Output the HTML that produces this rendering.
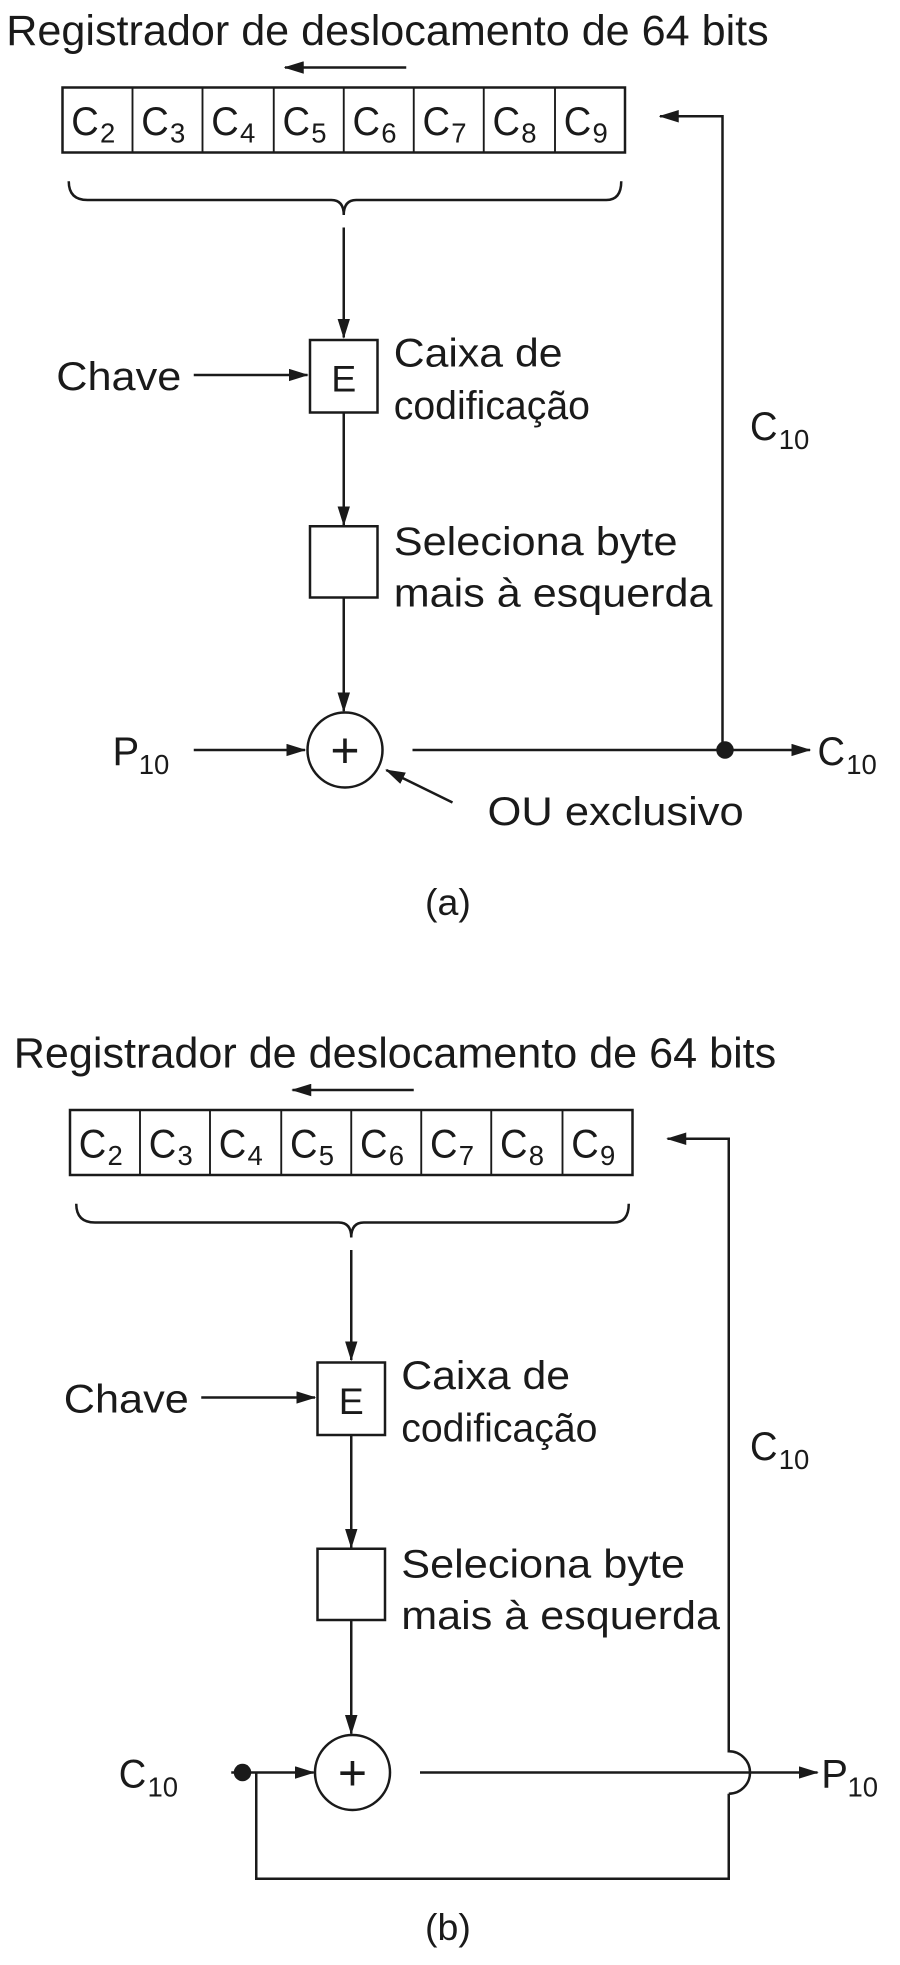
<!DOCTYPE html>
<html><head><meta charset="utf-8"><style>html,body{margin:0;padding:0;background:#fff}svg{display:block}text{font-family:"Liberation Sans",sans-serif;fill:#1a1a1a}</style></head>
<body>
<svg width="900" height="1965" viewBox="0 0 720 1572" xmlns="http://www.w3.org/2000/svg">
<defs>
<marker id="ah" markerWidth="16" markerHeight="10" refX="15" refY="5" orient="auto" markerUnits="userSpaceOnUse"><path d="M0,0 L16,5 L0,10 z" fill="#1a1a1a"/></marker>
<g id="common">
<text x="5" y="36" font-size="34" textLength="610" lengthAdjust="spacingAndGlyphs">Registrador de deslocamento de 64 bits</text>
<line x1="325" y1="54" x2="228" y2="54" stroke="#1a1a1a" stroke-width="2" marker-end="url(#ah)"/>
<rect x="50" y="70" width="450" height="52" fill="none" stroke="#1a1a1a" stroke-width="2"/>
<g stroke="#1a1a1a" stroke-width="1.5">
<line x1="106" y1="70" x2="106" y2="122"/><line x1="162" y1="70" x2="162" y2="122"/><line x1="219" y1="70" x2="219" y2="122"/><line x1="275" y1="70" x2="275" y2="122"/><line x1="331" y1="70" x2="331" y2="122"/><line x1="387" y1="70" x2="387" y2="122"/><line x1="444" y1="70" x2="444" y2="122"/>
</g>
<g font-size="32">
<text x="57" y="108" textLength="22" lengthAdjust="spacingAndGlyphs">C</text><text x="80" y="114" font-size="22">2</text>
<text x="113" y="108" textLength="22" lengthAdjust="spacingAndGlyphs">C</text><text x="136" y="114" font-size="22">3</text>
<text x="169" y="108" textLength="22" lengthAdjust="spacingAndGlyphs">C</text><text x="192" y="114" font-size="22">4</text>
<text x="226" y="108" textLength="22" lengthAdjust="spacingAndGlyphs">C</text><text x="249" y="114" font-size="22">5</text>
<text x="282" y="108" textLength="22" lengthAdjust="spacingAndGlyphs">C</text><text x="305" y="114" font-size="22">6</text>
<text x="338" y="108" textLength="22" lengthAdjust="spacingAndGlyphs">C</text><text x="361" y="114" font-size="22">7</text>
<text x="394" y="108" textLength="22" lengthAdjust="spacingAndGlyphs">C</text><text x="417" y="114" font-size="22">8</text>
<text x="451" y="108" textLength="22" lengthAdjust="spacingAndGlyphs">C</text><text x="474" y="114" font-size="22">9</text>
</g>
<path d="M55,145 Q55,160 70,160 L265,160 Q275,160 275,172 Q275,160 285,160 L485,160 Q497,160 497,145" fill="none" stroke="#1a1a1a" stroke-width="2"/>
<line x1="275" y1="182" x2="275" y2="270" stroke="#1a1a1a" stroke-width="2" marker-end="url(#ah)"/>
<rect x="248" y="272" width="54" height="58" fill="none" stroke="#1a1a1a" stroke-width="2"/>
<text x="275" y="313" font-size="30" text-anchor="middle">E</text>
<text x="45" y="312" font-size="32" textLength="100" lengthAdjust="spacingAndGlyphs">Chave</text>
<line x1="155" y1="300" x2="246" y2="300" stroke="#1a1a1a" stroke-width="2" marker-end="url(#ah)"/>
<text x="315" y="293" font-size="32" textLength="135" lengthAdjust="spacingAndGlyphs">Caixa de</text>
<text x="315" y="335" font-size="32" textLength="157" lengthAdjust="spacingAndGlyphs">codificação</text>
<line x1="275" y1="330" x2="275" y2="420" stroke="#1a1a1a" stroke-width="2" marker-end="url(#ah)"/>
<rect x="248" y="421" width="54" height="57" fill="none" stroke="#1a1a1a" stroke-width="2"/>
<text x="315" y="444" font-size="32" textLength="227" lengthAdjust="spacingAndGlyphs">Seleciona byte</text>
<text x="315" y="485" font-size="32" textLength="255" lengthAdjust="spacingAndGlyphs">mais à esquerda</text>
<line x1="275" y1="478" x2="275" y2="569" stroke="#1a1a1a" stroke-width="2" marker-end="url(#ah)"/>
<circle cx="276" cy="600" r="30" fill="none" stroke="#1a1a1a" stroke-width="2"/>
<text x="276" y="614" font-size="40" text-anchor="middle">+</text>
</g>
</defs>

<!-- (a) -->
<use href="#common"/>
<text x="90" y="612" font-size="32">P</text><text x="111" y="619" font-size="22">10</text>
<line x1="155" y1="600" x2="244" y2="600" stroke="#1a1a1a" stroke-width="2" marker-end="url(#ah)"/>
<line x1="330" y1="600" x2="648" y2="600" stroke="#1a1a1a" stroke-width="2" marker-end="url(#ah)"/>
<circle cx="580" cy="600" r="7" fill="#1a1a1a"/>
<text x="654" y="612" font-size="32" textLength="22" lengthAdjust="spacingAndGlyphs">C</text><text x="677" y="619" font-size="22">10</text>
<polyline points="578,600 578,93 528,93" fill="none" stroke="#1a1a1a" stroke-width="2" marker-end="url(#ah)"/>
<text x="600" y="352" font-size="32" textLength="22" lengthAdjust="spacingAndGlyphs">C</text><text x="623" y="359" font-size="22">10</text>
<line x1="362" y1="642" x2="309" y2="616" stroke="#1a1a1a" stroke-width="2" marker-end="url(#ah)"/>
<text x="390" y="660" font-size="32" textLength="205" lengthAdjust="spacingAndGlyphs">OU exclusivo</text>
<text x="340" y="732" font-size="30">(a)</text>

<!-- (b) -->
<use href="#common" transform="translate(6,818)"/>
<text x="95" y="1430" font-size="32" textLength="22" lengthAdjust="spacingAndGlyphs">C</text><text x="118" y="1437" font-size="22">10</text>
<line x1="185" y1="1418" x2="251" y2="1418" stroke="#1a1a1a" stroke-width="2" marker-end="url(#ah)"/>
<circle cx="194" cy="1418" r="7" fill="#1a1a1a"/>
<polyline points="205,1418 205,1503 583,1503 583,1435" fill="none" stroke="#1a1a1a" stroke-width="2"/>
<path d="M583,1435 A17,17 0 0 0 583,1401 L583,911 L534,911" fill="none" stroke="#1a1a1a" stroke-width="2" marker-end="url(#ah)"/>
<line x1="336" y1="1418" x2="654" y2="1418" stroke="#1a1a1a" stroke-width="2" marker-end="url(#ah)"/>
<text x="657" y="1430" font-size="32">P</text><text x="678" y="1437" font-size="22">10</text>
<text x="600" y="1168" font-size="32" textLength="22" lengthAdjust="spacingAndGlyphs">C</text><text x="623" y="1175" font-size="22">10</text>
<text x="340" y="1552" font-size="30">(b)</text>
</svg>
</body></html>
